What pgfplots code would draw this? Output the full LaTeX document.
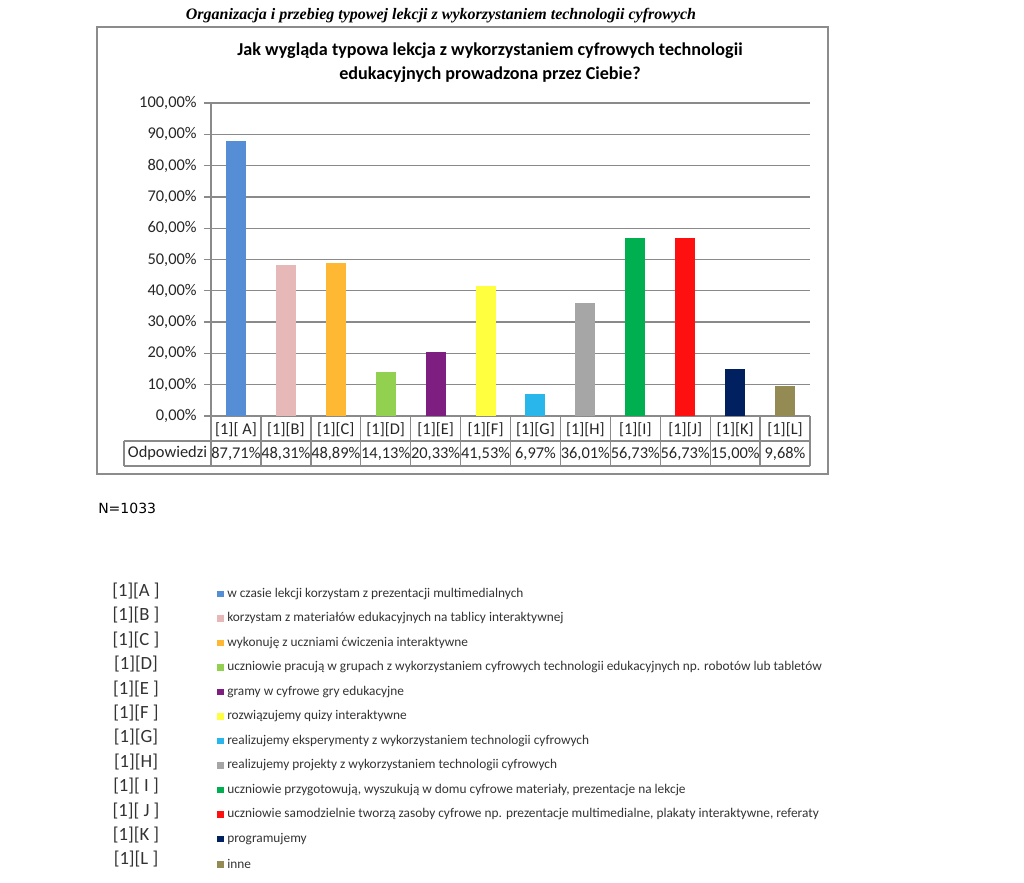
\documentclass[border=0pt]{standalone}
\usepackage{fontspec}
\setmainfont{Carlito}
\newfontfamily\hdrfont{Liberation Serif}
\newfontfamily\nfont{DejaVu Sans}
\usepackage{pgfplots}
\usepackage{pgfplotstable}
\pgfplotsset{compat=1.18}
\definecolor{cA}{HTML}{558ED5}
\definecolor{cB}{HTML}{E6B9B8}
\definecolor{cC}{HTML}{FFB833}
\definecolor{cD}{HTML}{92D050}
\definecolor{cE}{HTML}{7E1E80}
\definecolor{cF}{HTML}{FFFF40}
\definecolor{cG}{HTML}{29B6EA}
\definecolor{cH}{HTML}{A6A6A6}
\definecolor{cI}{HTML}{00B050}
\definecolor{cJ}{HTML}{FF1010}
\definecolor{cK}{HTML}{002060}
\definecolor{cL}{HTML}{948A54}
\definecolor{frame}{HTML}{8C8C8C}
\definecolor{gridc}{HTML}{8A8A8A}
\pgfplotstableread{
x v
0 87.71
1 48.31
2 48.89
3 14.13
4 20.33
5 41.53
6 6.97
7 36.01
8 56.73
9 56.73
10 15.00
11 9.68
}\datatable
\begin{document}
\begin{tikzpicture}[x=0.75pt,y=0.75pt]
\useasboundingbox (0,0) rectangle (1024,882);
% header
\node[font=\hdrfont\itshape\bfseries\fontsize{12}{14}\selectfont] at (441,866) {Organizacja i przebieg typowej lekcji z wykorzystaniem technologii cyfrowych};
% frame
\draw[frame, line width=1.1pt] (97,855) rectangle (828,408);
% title
\node[font=\bfseries\fontsize{13.6}{15}\selectfont, align=center] at (490,819) {Jak wygląda typowa lekcja z wykorzystaniem cyfrowych technologii\\[3pt] edukacyjnych prowadzona przez Ciebie?};
\begin{axis}[
  at={(158.25pt,349.5pt)}, anchor=south west,
  width=449.25pt, height=234.75pt, scale only axis,
  xmin=-0.5, xmax=11.5, ymin=0, ymax=100,
  axis x line*=bottom, axis y line*=left,
  axis line style={gridc, line width=1pt},
  xtick={0,...,11},
  xticklabels={{[1][ A]},{[1][B]},{[1][C]},{[1][D]},{[1][E]},{[1][F]},{[1][G]},{[1][H]},{[1][I]},{[1][J]},{[1][K]},{[1][L]}},
  xtick style={draw=none},
  xticklabel style={anchor=center, yshift=-4.9pt},
  ytick={0,10,...,100},
  ymajorgrids, major grid style={gridc, line width=1pt},
  ytick style={gridc, line width=1pt},
  yticklabel style={xshift=-2pt},
  tick align=outside, major tick length=5.25pt,
  /pgf/number format/assume math mode=true,
  yticklabel={\pgfmathprintnumber[fixed,fixed zerofill,precision=2,use comma]{\tick}\%},
  tick label style={font=\fontsize{12.3}{14}\selectfont, text=black!85},
  clip=false,
]
\addplot[ybar, bar width=15pt, bar shift=0pt, fill=cA, draw=none] coordinates {(0,87.71)};
\addplot[ybar, bar width=15pt, bar shift=0pt, fill=cB, draw=none] coordinates {(1,48.31)};
\addplot[ybar, bar width=15pt, bar shift=0pt, fill=cC, draw=none] coordinates {(2,48.89)};
\addplot[ybar, bar width=15pt, bar shift=0pt, fill=cD, draw=none] coordinates {(3,14.13)};
\addplot[ybar, bar width=15pt, bar shift=0pt, fill=cE, draw=none] coordinates {(4,20.33)};
\addplot[ybar, bar width=15pt, bar shift=0pt, fill=cF, draw=none] coordinates {(5,41.53)};
\addplot[ybar, bar width=15pt, bar shift=0pt, fill=cG, draw=none] coordinates {(6,6.97)};
\addplot[ybar, bar width=15pt, bar shift=0pt, fill=cH, draw=none] coordinates {(7,36.01)};
\addplot[ybar, bar width=15pt, bar shift=0pt, fill=cI, draw=none] coordinates {(8,56.73)};
\addplot[ybar, bar width=15pt, bar shift=0pt, fill=cJ, draw=none] coordinates {(9,56.73)};
\addplot[ybar, bar width=15pt, bar shift=0pt, fill=cK, draw=none] coordinates {(10,15.00)};
\addplot[ybar, bar width=15pt, bar shift=0pt, fill=cL, draw=none] coordinates {(11,9.68)};
\addplot[draw=none, mark=none, point meta=explicit,
  nodes near coords={\pgfmathprintnumber[fixed,fixed zerofill,precision=2,use comma]{\pgfplotspointmeta}\%},
  nodes near coords style={anchor=center, text=black!85, font=\fontsize{12.3}{14}\selectfont, inner sep=0pt}]
  table[x=x, y expr=-12, meta=v] {\datatable};
\end{axis}
% table grid
\foreach \k in {0,...,12}{\draw[gridc, line width=1pt] ({211+\k*49.917},466) -- ({211+\k*49.917},416);}
\draw[gridc, line width=1pt] (124,441) -- (810,441);
\draw[gridc, line width=1pt] (124,416) -- (810,416);
\draw[gridc, line width=1pt] (124,441) -- (124,416);
\node[font=\fontsize{12.3}{14}\selectfont, text=black!85] at (167.5,428.5) {Odpowiedzi};
% N
\node[font=\nfont\fontsize{10.5}{12}\selectfont, anchor=west, inner sep=0pt] at (98,374) {N=1033};
% legend list
\foreach \lab [count=\i from 0] in {{[1][A ]},{[1][B ]},{[1][C ]},{[1][D]},{[1][E ]},{[1][F ]},{[1][G]},{[1][H]},{[1][ I ]},{[1][ J ]},{[1][K ]},{[1][L ]}}{
  \node[font=\fontsize{14}{16}\selectfont, text=black!80] at (136,{882-591-\i*24.4}) {\lab};
}
\foreach \txt/\col [count=\i from 0] in {
 {w czasie lekcji korzystam z prezentacji multimedialnych}/cA,
 {korzystam z materiałów edukacyjnych na tablicy interaktywnej}/cB,
 {wykonuję z uczniami ćwiczenia interaktywne}/cC,
 {uczniowie pracują w grupach z wykorzystaniem cyfrowych technologii edukacyjnych np. robotów lub tabletów}/cD,
 {gramy w cyfrowe gry edukacyjne}/cE,
 {rozwiązujemy quizy interaktywne}/cF,
 {realizujemy eksperymenty z wykorzystaniem technologii cyfrowych}/cG,
 {realizujemy projekty z wykorzystaniem technologii cyfrowych}/cH,
 {uczniowie przygotowują, wyszukują w domu cyfrowe materiały, prezentacje na lekcje}/cI,
 {uczniowie samodzielnie tworzą zasoby cyfrowe np. prezentacje multimedialne, plakaty interaktywne, referaty}/cJ,
 {programujemy}/cK,
 {inne}/cL}{
  \node[font=\fontsize{10}{12}\selectfont, text=black!80, anchor=west, inner sep=0pt] at (217,{882-594-\i*24.5}) {\textcolor{\col}{\rule{5pt}{5pt}}\hspace{2.5pt}\txt};
}
\end{tikzpicture}
\end{document}
